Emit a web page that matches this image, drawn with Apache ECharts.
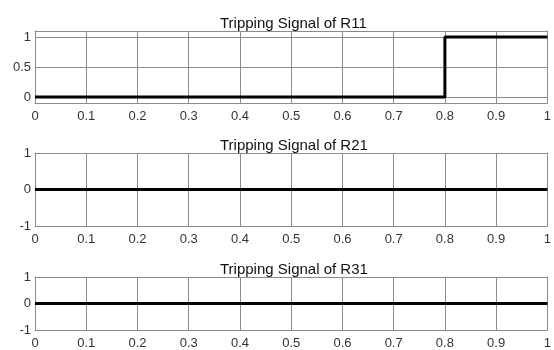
<!DOCTYPE html>
<html>
<head>
<meta charset="utf-8">
<script src="https://cdn.jsdelivr.net/npm/echarts@6/dist/echarts.min.js"></script>
<style>
  html, body { margin: 0; padding: 0; background: #fff; }
  #chart { width: 554px; height: 350px; }
</style>
</head>
<body>
<div id="chart"></div>
<script>
// Relay tripping signals versus time (s)
const titles = ['Tripping Signal of R11', 'Tripping Signal of R21', 'Tripping Signal of R31'];
const timeR11 = [0, 0.8, 0.8, 1];
const sigR11 = [0, 0, 1, 1];
const timeR21 = [0, 1];
const sigR21 = [0, 0];
const timeR31 = [0, 1];
const sigR31 = [0, 0];
const xTicks = [0, 0.1, 0.2, 0.3, 0.4, 0.5, 0.6, 0.7, 0.8, 0.9, 1];
const yTicksR11 = [0, 0.5, 1];
const yTicksR21 = [-1, 0, 1];
const yTicksR31 = [-1, 0, 1];

const panels = [
  { t: timeR11, v: sigR11, yt: yTicksR11, min: -0.1, max: 1.1, top: 31, height: 72 },
  { t: timeR21, v: sigR21, yt: yTicksR21, min: -1, max: 1, top: 153, height: 73 },
  { t: timeR31, v: sigR31, yt: yTicksR31, min: -1, max: 1, top: 277, height: 54 }
];

const FONT = 'Liberation Sans, Arial, sans-serif';
const frame = '#8c8c8c';
const gridC = '#8c8c8c';

const grid = [], xAxis = [], yAxis = [], series = [], title = [];
panels.forEach((p, i) => {
  grid.push({ left: 35, right: 6, top: p.top, height: p.height });
  title.push({
    text: titles[i], left: 215, top: p.top - 20,
    textStyle: { fontFamily: FONT, fontSize: 15, fontWeight: 'normal', color: '#111' }
  });
  // bottom x axis with labels
  xAxis.push({
    type: 'value', gridIndex: i, min: 0, max: 1, interval: 0.1, position: 'bottom',
    axisLine: { show: true, onZero: false, lineStyle: { color: frame, width: 1 } },
    axisTick: { show: true, inside: true, length: 4, lineStyle: { color: frame } },
    axisLabel: { show: true, color: '#333', fontFamily: FONT, fontSize: 13, margin: 7,
      customValues: xTicks },
    splitLine: { show: true, lineStyle: { color: gridC, width: 1 } }
  });
  // top frame edge
  xAxis.push({
    type: 'value', gridIndex: i, min: 0, max: 1, interval: 0.1, position: 'top',
    axisLine: { show: true, onZero: false, lineStyle: { color: frame, width: 1 } },
    axisTick: { show: true, inside: true, length: 4, lineStyle: { color: frame } },
    axisLabel: { show: false }, splitLine: { show: false }
  });
  yAxis.push({
    type: 'value', gridIndex: i, min: p.min, max: p.max, position: 'left',
    axisLine: { show: true, onZero: false, lineStyle: { color: frame, width: 1 } },
    axisTick: { show: true, inside: true, length: 4, customValues: p.yt, lineStyle: { color: frame } },
    axisLabel: { show: true, color: '#333', fontFamily: FONT, fontSize: 13, margin: 4,
      customValues: p.yt, formatter: v => String(v) },
    splitLine: { show: true, lineStyle: { color: gridC, width: 1 } }
  });
  yAxis.push({
    type: 'value', gridIndex: i, min: p.min, max: p.max, position: 'right',
    axisLine: { show: true, onZero: false, lineStyle: { color: frame, width: 1 } },
    axisTick: { show: true, inside: true, length: 4, customValues: p.yt, lineStyle: { color: frame } },
    axisLabel: { show: false }, splitLine: { show: false }
  });
  series.push({
    type: 'line', xAxisIndex: 2 * i, yAxisIndex: 2 * i,
    data: p.t.map((t, k) => [t, p.v[k]]),
    showSymbol: false, symbol: 'none', animation: false, z: 10,
    lineStyle: { color: '#000', width: 3 }
  });
});

const chart = echarts.init(document.getElementById('chart'), null, { renderer: 'canvas' });
chart.setOption({ animation: false, backgroundColor: '#fff', title, grid, xAxis, yAxis, series });
</script>
</body>
</html>
